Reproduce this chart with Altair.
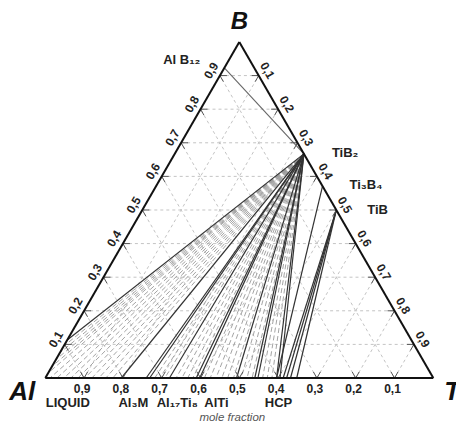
import altair as alt
import pandas as pd
import numpy as np

# ---- data: compositions as (B fraction, Ti fraction) ----
TIB2 = (0.667, 0.333)
ALB12 = (0.923, 0.0)
TI3B4 = (0.571, 0.429)
TIB = (0.5, 0.5)

grid_levels = [0.1, 0.2, 0.3, 0.4, 0.5, 0.6, 0.7, 0.8, 0.9]
bottom_tick_al = [0.9, 0.8, 0.7, 0.6, 0.5, 0.4, 0.3, 0.2, 0.1]
bottom_tick_text = ["0,9", "0,8", "0,7", "0,6", "0,5", "0,4", "0,3", "0,2", "0,1"]
left_tick_b = [0.1, 0.2, 0.3, 0.4, 0.5, 0.6, 0.7, 0.8, 0.9]
left_tick_text = ["0,1", "0,2", "0,3", "0,4", "0,5", "0,6", "0,7", "0,8", "0,9"]
right_tick_ti = [0.1, 0.2, 0.3, 0.4, 0.5, 0.6, 0.7, 0.8, 0.9]
right_tick_text = ["0,1", "0,2", "0,3", "0,4", "0,5", "0,6", "0,7", "0,8", "0,9"]

# solid phase-boundary lines
tib2_left_b = [0.113]
tib2_fan_ti = [0.196, 0.260, 0.269, 0.320, 0.389, 0.398, 0.493, 0.540, 0.548, 0.596, 0.605]
ti3b4_fan_ti = [0.596]
tib_fan_ti = [0.613, 0.622, 0.632, 0.648]
# dashed tie-lines from TiB2
tie_left_b = [0.095, 0.075, 0.055, 0.035, 0.015]
tie_bottom_ti = [0.012, 0.030, 0.048, 0.066, 0.084, 0.102, 0.120, 0.138, 0.156, 0.174,
                 0.282, 0.295, 0.308, 0.337, 0.352, 0.367, 0.380,
                 0.410, 0.425, 0.440, 0.455, 0.470, 0.485, 0.505, 0.520, 0.533,
                 0.560, 0.572, 0.584]

bottom_phase_text = ["LIQUID", "Al\u2083M", "Al\u2081\u2087Ti\u2088", "AlTi", "HCP"]
bottom_phase_ti = [0.058, 0.227, 0.340, 0.441, 0.601]

S3 = np.sqrt(3) / 2
TK = 0.018  # tick length (mole fraction)


def xy(b, t):
    return t + b / 2.0, b * S3


def seg(p, q):
    x1, y1 = xy(*p)
    x2, y2 = xy(*q)
    return {"x": x1, "y": y1, "x2": x2, "y2": y2}


# ---- scales (pixel geometry) ----
W, H = 448, 418
PX = 388.0
x0, y0 = 37.3, 370.0
xs = alt.Scale(domain=[-x0 / PX, (W - x0) / PX], nice=False, zero=False)
ys = alt.Scale(domain=[-(H - y0) / PX, y0 / PX], nice=False, zero=False)


def rules(df, **mk):
    return alt.Chart(df).mark_rule(**mk).encode(
        x=alt.X("x:Q", scale=xs, axis=None),
        y=alt.Y("y:Q", scale=ys, axis=None),
        x2="x2:Q", y2="y2:Q")


def texts(df, **mk):
    mk.setdefault("baseline", "middle")
    return alt.Chart(df).mark_text(**mk).encode(
        x=alt.X("x:Q", scale=xs, axis=None),
        y=alt.Y("y:Q", scale=ys, axis=None),
        text="label:N")


# grid
grid = []
ticks = []
for g in grid_levels:
    grid.append(seg((g, 0.0), (g, 1 - g)))        # constant B
    grid.append(seg((0.0, g), (1 - g, g)))        # constant Ti
    grid.append(seg((0.0, 1 - g), (1 - g, 0.0)))  # constant Al
    # small tick marks on the edges
    ticks.append(seg((0.0, g), (TK, g)))
    ticks.append(seg((0.0, g), (TK, g - TK)))
    ticks.append(seg((g, 0.0), (g, TK)))
    ticks.append(seg((g, 0.0), (g - TK, TK)))
    ticks.append(seg((1 - g, g), (1 - g, g - TK)))
    ticks.append(seg((1 - g, g), (1 - g - TK, g)))
grid_df = pd.DataFrame(grid)
tick_df = pd.DataFrame(ticks)

edges_df = pd.DataFrame([seg((0, 0), (0, 1)), seg((0, 1), (1, 0)), seg((1, 0), (0, 0))])

solid = [seg(TIB2, (b, 0.0)) for b in tib2_left_b]
solid += [seg(TIB2, (0.0, t)) for t in tib2_fan_ti]
solid += [seg(TI3B4, (0.0, t)) for t in ti3b4_fan_ti]
solid += [seg(TIB, (0.0, t)) for t in tib_fan_ti]
solid_df = pd.DataFrame(solid)
alb_df = pd.DataFrame([seg(ALB12, TIB2)])

ties = [seg(TIB2, (b, 0.0)) for b in tie_left_b]
ties += [seg(TIB2, (0.0, t)) for t in tie_bottom_ti]
tie_df = pd.DataFrame(ties)

# tick labels
bt = pd.DataFrame({"x": [xy(0, 1 - a)[0] for a in bottom_tick_al],
                   "y": [0.0] * 9, "label": bottom_tick_text})
lt = pd.DataFrame({"x": [xy(b, 0)[0] for b in left_tick_b],
                   "y": [xy(b, 0)[1] for b in left_tick_b], "label": left_tick_text})
rt = pd.DataFrame({"x": [xy(1 - t, t)[0] for t in right_tick_ti],
                   "y": [xy(1 - t, t)[1] for t in right_tick_ti], "label": right_tick_text})

bp = pd.DataFrame({"x": [xy(0, t)[0] for t in bottom_phase_ti],
                   "y": [0.0] * len(bottom_phase_ti), "label": bottom_phase_text})

FONT = "Liberation Sans"
layers = [
    rules(grid_df, color="#c4c4c4", strokeDash=[3, 3], strokeWidth=1),
    rules(tie_df, color="#9a9a9a", strokeDash=[5, 3], strokeWidth=0.9),
    rules(solid_df, color="#333333", strokeWidth=1.2),
    rules(alb_df, color="#666666", strokeWidth=1.1),
    rules(tick_df, color="#555555", strokeWidth=1),
    rules(edges_df, color="#111111", strokeWidth=2),
    texts(bt, font=FONT, fontSize=12, fontWeight="bold", dx=-2, dy=11, color="#222"),
    texts(lt, font=FONT, fontSize=12, fontWeight="bold", dx=0, dy=-10, angle=300, color="#222"),
    texts(rt, font=FONT, fontSize=12, fontWeight="bold", dx=0, dy=-10, angle=60, color="#222"),
    texts(bp, font=FONT, fontSize=13, fontWeight="bold", dy=25, color="#222"),
]

# vertex labels
vx = pd.DataFrame({"x": [xy(1, 0)[0]], "y": [xy(1, 0)[1]], "label": ["B"]})
layers.append(texts(vx, font=FONT, fontSize=24, fontWeight="bold", fontStyle="italic", dy=-20, color="#111"))
va = pd.DataFrame({"x": [xy(0, 0)[0]], "y": [0.0], "label": ["Al"]})
layers.append(texts(va, font=FONT, fontSize=26, fontWeight="bold", fontStyle="italic", dx=-23, dy=14, color="#111"))
vt = pd.DataFrame({"x": [xy(0, 1)[0]], "y": [0.0], "label": ["Ti"]})
layers.append(texts(vt, font=FONT, fontSize=26, fontWeight="bold", fontStyle="italic", align="left", dx=11, dy=14, color="#111"))

# compound labels
cl = pd.DataFrame({"x": [xy(*TIB2)[0], xy(*TI3B4)[0], xy(*TIB)[0]],
                   "y": [xy(*TIB2)[1], xy(*TI3B4)[1], xy(*TIB)[1]],
                   "label": ["TiB\u2082", "Ti\u2083B\u2084", "TiB"]})
layers.append(texts(cl.iloc[[0]], font=FONT, fontSize=13, fontWeight="bold", align="left", dx=28, dy=-1, color="#222"))
layers.append(texts(cl.iloc[[1]], font=FONT, fontSize=13, fontWeight="bold", align="left", dx=27, dy=-1, color="#222"))
layers.append(texts(cl.iloc[[2]], font=FONT, fontSize=13, fontWeight="bold", align="left", dx=31, dy=0, color="#222"))
al = pd.DataFrame({"x": [xy(*ALB12)[0]], "y": [xy(*ALB12)[1]], "label": ["Al B\u2081\u2082"]})
layers.append(texts(al, font=FONT, fontSize=13, fontWeight="bold", align="right", dx=-24, dy=-8, color="#222"))

mf = pd.DataFrame({"x": [xy(0, 0.5)[0]], "y": [0.0], "label": ["mole fraction"]})
layers.append(texts(mf, font=FONT, fontSize=11.5, fontStyle="italic", dx=-7, dy=40, color="#555"))

chart = alt.layer(*layers).properties(
    width=W, height=H, autosize=alt.AutoSizeParams(type="none"), padding=0, background="white"
).configure_view(strokeWidth=0)

chart.save("out.html", embed_options={"renderer": "svg", "actions": False})
